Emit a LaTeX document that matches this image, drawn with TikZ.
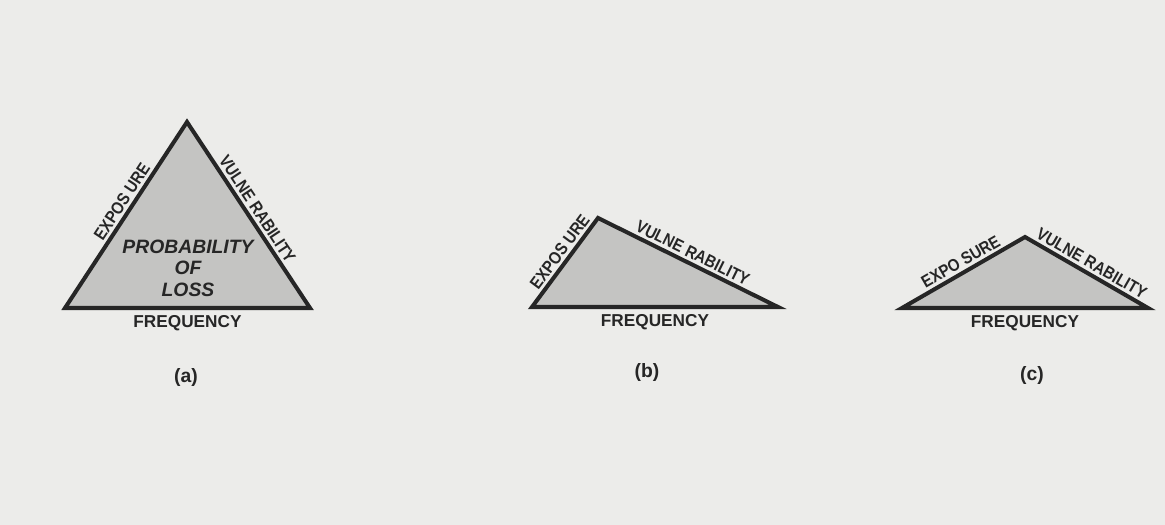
\documentclass[tikz,border=0pt]{standalone}
\usepackage{fontspec}
\setmainfont{Liberation Sans}
\definecolor{paper}{RGB}{236,236,234}
\definecolor{shade}{RGB}{196,196,194}
\definecolor{ink}{RGB}{38,38,38}
\newcommand{\narrowtxt}[1]{\scalebox{0.87}[1]{#1}}
\tikzset{
  tri/.style={draw=ink, fill=shade, line width=2.3pt},
  side/.style={sloped, above, font=\fontsize{9.8}{11}\selectfont\bfseries, text=ink, inner sep=1.5pt},
  base/.style={below, font=\fontsize{9.8}{12}\selectfont\bfseries, text=ink, inner sep=3pt},
  caption/.style={font=\fontsize{11}{13}\selectfont\bfseries, text=ink}
}
\begin{document}
\begin{tikzpicture}[x=0.2mm, y=-0.2mm]
  \fill[paper] (0,0) rectangle (1165,525);
  \useasboundingbox (0,0) rectangle (1165,525);

  % (a) equilateral-like triangle
  \coordinate (aL) at (65,308);
  \coordinate (aT) at (187,122);
  \coordinate (aR) at (310,308);
  \draw[tri] (aL) -- node[side, pos=0.54] (aexp) {\narrowtxt{EXPOS URE}}
    (aT) -- node[side, pos=0.5] (avul) {\narrowtxt{VULNE RABILITY}}
    (aR) -- node[base] (afreq) {FREQUENCY} cycle;
  \node[align=center, text=ink, font=\fontsize{11}{12.2}\selectfont\bfseries\itshape] (aloss) at (188,268)
    {PROBABILITY\\OF\\LOSS};
  \node[caption] (acap) at (186,378) {(a)};

  % (b) low exposure, long vulnerability side
  \coordinate (bL) at (532,307);
  \coordinate (bT) at (598,218);
  \coordinate (bR) at (778,307);
  \draw[tri] (bL) -- node[side, pos=0.55] (bexp) {\narrowtxt{EXPOS URE}}
    (bT) -- node[side, pos=0.5] (bvul) {\narrowtxt{VULNE RABILITY}}
    (bR) -- node[base] (bfreq) {FREQUENCY} cycle;
  \node[caption] (bcap) at (647,373) {(b)};

  % (c) flat triangle
  \coordinate (cL) at (902,308);
  \coordinate (cT) at (1025,237);
  \coordinate (cR) at (1148,308);
  \draw[tri] (cL) -- node[side, pos=0.52] (cexp) {\narrowtxt{EXPO SURE}}
    (cT) -- node[side, pos=0.5] (cvul) {\narrowtxt{VULNE RABILITY}}
    (cR) -- node[base] (cfreq) {FREQUENCY} cycle;
  \node[caption] (ccap) at (1032,376) {(c)};

\end{tikzpicture}
\end{document}
